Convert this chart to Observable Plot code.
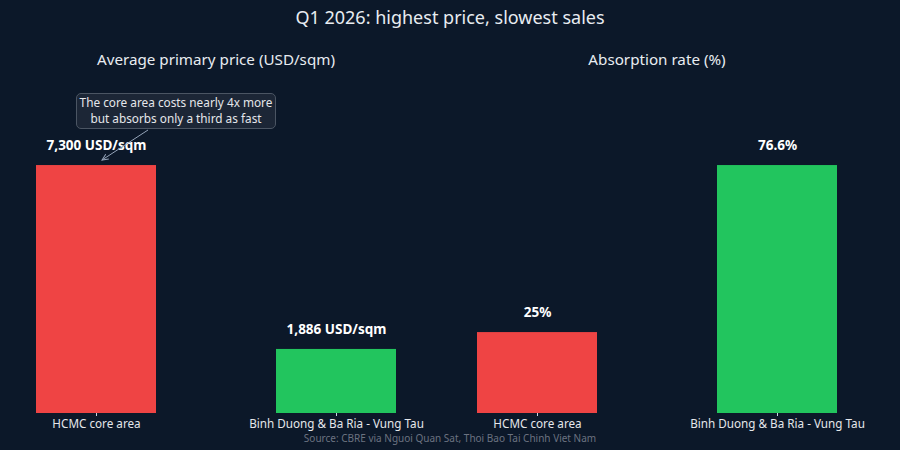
<!DOCTYPE html>
<html>
<head>
<meta charset="utf-8">
<script src="https://cdn.jsdelivr.net/npm/d3@7"></script>
<script src="https://cdn.jsdelivr.net/npm/@observablehq/plot@0.6"></script>
<style>
  html, body { margin: 0; padding: 0; background: #0c1829; }
  #wrap { position: relative; width: 900px; height: 450px; background: #0c1829; font-family: "Noto Sans", "Open Sans", sans-serif; color: #e5e7eb; overflow: hidden; }
  .title { position: absolute; top: 5px; left: 0; width: 900px; text-align: center; font-size: 18px; color: #e8ecf1; }
  .sub { position: absolute; top: 49px; width: 432px; text-align: center; font-size: 15.2px; color: #e8ecf1; }
  .panel { position: absolute; top: 70px; }
  .source { position: absolute; top: 431px; left: 0; width: 900px; text-align: center; font-size: 10px; color: #6b7280; }
  .note { position: absolute; left: 76px; top: 93px; width: 200px; height: 36px; border: 1px solid #4b5563; border-radius: 5px; background: #1c2636; font-size: 11.8px; line-height: 15.5px; text-align: center; color: #e5e7eb; padding-top: 1px; box-sizing: border-box; white-space: nowrap; }
  #arrow { position: absolute; left: 0; top: 0; pointer-events: none; }
</style>
</head>
<body>
<div id="wrap">
  <div class="title">Q1 2026: highest price, slowest sales</div>
  <div class="sub" style="left:0px">Average primary price (USD/sqm)</div>
  <div class="sub" style="left:441px">Absorption rate (%)</div>
  <div class="panel" id="left" style="left:0px"></div>
  <div class="panel" id="right" style="left:441px"></div>
  <svg id="arrow" width="900" height="450">
    <defs>
      <marker id="ah" viewBox="0 0 10 10" refX="9" refY="5" markerWidth="7" markerHeight="7" orient="auto-start-reverse">
        <path d="M0,1 L9,5 L0,9" fill="none" stroke="#94a3b8" stroke-width="1.4"/>
      </marker>
    </defs>
    <line x1="148" y1="130" x2="102" y2="160" stroke="#94a3b8" stroke-width="1" marker-end="url(#ah)"/>
  </svg>
  <div class="note">The core area costs nearly 4x more<br>but absorbs only a third as fast</div>
  <div class="source">Source: CBRE via Nguoi Quan Sat, Thoi Bao Tai Chinh Viet Nam</div>
</div>
<script>
const regions = ["HCMC core area", "Binh Duong & Ba Ria - Vung Tau"];
const priceValues = [7300, 1886];
const priceLabels = ["7,300 USD/sqm", "1,886 USD/sqm"];
const absorptionValues = [25, 76.6];
const absorptionLabels = ["25%", "76.6%"];
const barColors = ["#ef4444", "#22c55e"];

function panel(values, labels, marginRight) {
  const data = regions.map((r, i) => ({region: r, value: values[i], label: labels[i], color: barColors[i]}));
  const max = d3.max(values);
  return Plot.plot({
    width: 432 + marginRight,
    height: 360,
    marginLeft: 0,
    marginRight: marginRight,
    marginTop: 40,
    marginBottom: 17,
    style: {background: "transparent", color: "#e5e7eb", fontFamily: "'Noto Sans', 'Open Sans', sans-serif", overflow: "visible"},
    x: {domain: regions, paddingInner: 0.5, paddingOuter: 0.15, label: null},
    y: {domain: [0, max * 1.222], axis: null},
    marks: [
      Plot.barY(data, {x: "region", y: "value", fill: "color"}),
      Plot.text(data, {x: "region", y: "value", text: "label", dy: -20, fill: "#ffffff", fontWeight: "bold", fontSize: 13.5}),
      Plot.axisX({tickSize: 3, tickPadding: 3, fontSize: 11.7, stroke: "#cbd5e1", fill: "#e5e7eb", label: null})
    ]
  });
}

document.getElementById("left").appendChild(panel(priceValues, priceLabels, 9));
document.getElementById("right").appendChild(panel(absorptionValues, absorptionLabels, 27));
</script>
</body>
</html>
